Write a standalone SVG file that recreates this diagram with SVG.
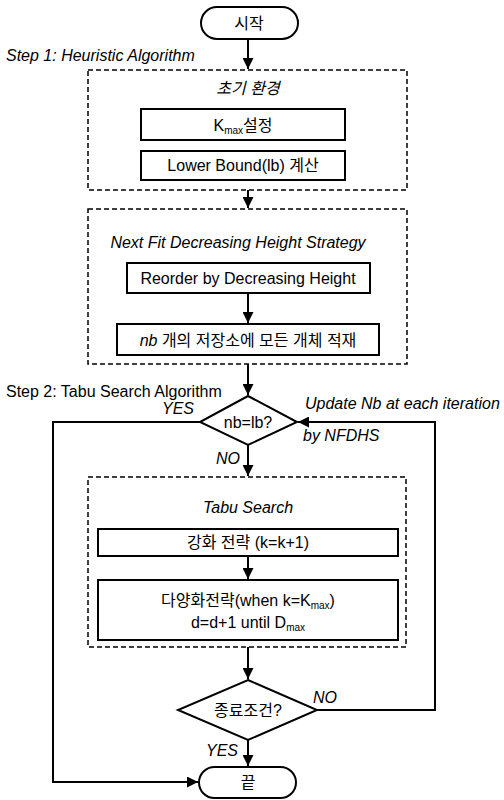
<svg xmlns="http://www.w3.org/2000/svg" width="504" height="800" viewBox="0 0 504 800">
<defs>
<marker id="ah" viewBox="0 0 10 10" refX="10" refY="5" markerWidth="5.5" markerHeight="5.5" orient="auto" markerUnits="strokeWidth"><path d="M0,0 L10,5 L0,10 z" fill="#000"/></marker>
<style>
.t{font-family:"Liberation Sans","Noto Sans CJK KR",Arial,sans-serif;font-size:16px;fill:#000;text-anchor:middle}
.i{font-style:italic}
.l{text-anchor:start}
.box{fill:#fff;stroke:#000;stroke-width:2}
.dash{fill:none;stroke:#000;stroke-width:1.5;stroke-dasharray:5,3}
.ln{fill:none;stroke:#000;stroke-width:2}
.sub{font-size:10px}
</style>
</defs>
<rect width="504" height="800" fill="#fff"/>
<g id="connectors">
<path class="ln" d="M248,39 V69" marker-end="url(#ah)"/>
<path class="ln" d="M248,190 V208" marker-end="url(#ah)"/>
<path class="ln" d="M248,293 V323" marker-end="url(#ah)"/>
<path class="ln" d="M248,364 V395" marker-end="url(#ah)"/>
<path class="ln" d="M248,445 V476" marker-end="url(#ah)"/>
<path class="ln" d="M248,556 V579" marker-end="url(#ah)"/>
<path class="ln" d="M248,647 V679" marker-end="url(#ah)"/>
<path class="ln" d="M248,740 V766" marker-end="url(#ah)"/>
<path class="ln" d="M200,422 H53 V782 H198" marker-end="url(#ah)"/>
<path class="ln" d="M317,710 H435 V422 H298" marker-end="url(#ah)"/>
</g>
<g id="labels">
<text class="t i l" x="6" y="61">Step 1: Heuristic Algorithm</text>
<text class="t l" x="6" y="397">Step 2: Tabu Search Algorithm</text>
<text class="t i" x="178" y="414">YES</text>
<text class="t i l" x="305" y="409">Update  Nb at each iteration</text>
<text class="t i l" x="303" y="441">by NFDHS</text>
<text class="t i" x="228" y="464">NO</text>
<text class="t i" x="325" y="703">NO</text>
<text class="t i" x="222" y="756">YES</text>
</g>
<g id="start">
<rect class="box" x="201" y="7" width="97" height="32" rx="16"/>
<text class="t" x="249" y="29">시작</text>
</g>
<g id="step1">
<rect class="dash" x="88" y="70" width="319" height="120"/>
<text class="t i" x="248" y="94">초기 환경</text>
</g>
<g id="kmax">
<rect class="box" x="141" y="109" width="204" height="31"/>
<text class="t" x="243" y="131">K<tspan class="sub" dy="3">max</tspan><tspan dy="-3">설정</tspan></text>
</g>
<g id="lowerbound">
<rect class="box" x="141" y="151" width="204" height="29"/>
<text class="t" x="243" y="171">Lower  Bound(lb) 계산</text>
</g>
<g id="nfdh">
<rect class="dash" x="88" y="209" width="319" height="155"/>
<text class="t i" x="238" y="248">Next Fit Decreasing Height Strategy</text>
</g>
<g id="reorder">
<rect class="box" x="127" y="263" width="243" height="30"/>
<text class="t" x="248" y="284">Reorder by Decreasing Height</text>
</g>
<g id="pack">
<rect class="box" x="117" y="324" width="262" height="31"/>
<text class="t" x="248" y="346"><tspan class="i">nb</tspan> 개의 저장소에 모든 개체 적재</text>
</g>
<g id="decision1">
<path class="box" d="M248,396 L297,422 L248,445 L200,422 Z"/>
<text class="t" x="248" y="428">nb=lb?</text>
</g>
<g id="tabu">
<rect class="dash" x="88" y="477" width="318" height="170"/>
<text class="t i" x="248" y="513">Tabu Search</text>
</g>
<g id="intensify">
<rect class="box" x="98" y="529" width="300" height="27"/>
<text class="t" x="248" y="548">강화 전략 (k=k+1)</text>
</g>
<g id="diversify">
<rect class="box" x="98" y="580" width="300" height="60"/>
<text class="t" x="248" y="606">다양화전략(when k=K<tspan class="sub" dy="3">max</tspan><tspan dy="-3">)</tspan></text>
<text class="t" x="248" y="628">d=d+1 until D<tspan class="sub" dy="3">max</tspan></text>
</g>
<g id="decision2">
<path class="box" d="M248,680 L317,710 L248,740 L178,710 Z"/>
<text class="t" x="248" y="716">종료조건?</text>
</g>
<g id="end">
<rect class="box" x="199" y="767" width="97" height="31" rx="15.5"/>
<text class="t" x="248" y="788">끝</text>
</g>
</svg>
